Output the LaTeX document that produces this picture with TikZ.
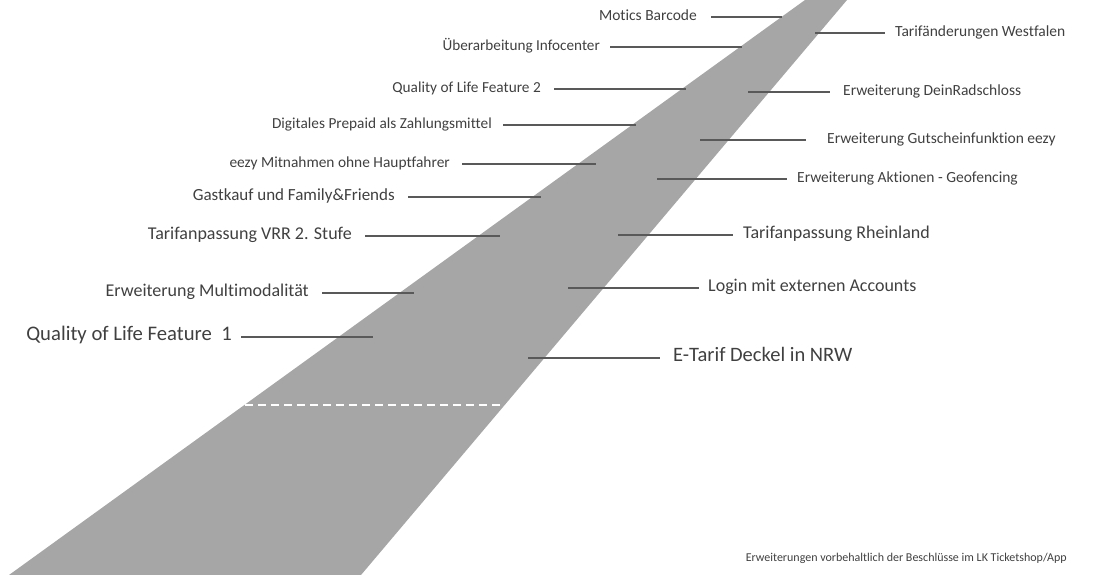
\documentclass[tikz,border=0pt]{standalone}
\usepackage{fontspec}
\setmainfont{Carlito}[Ligatures={NoCommon,NoContextual}]
\usepackage{tikz}
\definecolor{roadgray}{HTML}{A6A6A6}
\definecolor{linegray}{HTML}{595959}
\definecolor{textgray}{HTML}{404040}

\begin{document}
\begin{tikzpicture}[x=1pt,y=-1pt,
    lbl/.style={text=textgray, inner ysep=0pt, text height=0.64em, text depth=0em},
    tick/.style={draw=linegray, line width=1.4pt}]
      \useasboundingbox (0,0) rectangle (1113,575);
      \path[fill=roadgray] (9,575) -- (361,575) -- (847,0) -- (805,0) -- cycle;
      \path[draw=white, line width=1.2pt, dash pattern=on 8pt off 5pt] (245,405) -- (502,405);
      % left side: y / line start / line end / gap / size / text
      \foreach \i/\y/\xa/\xb/\gap/\fs/\txt in {
          1/17/711/782/14/15.5/{Motics Barcode},
          2/47/610/742/10/15.2/{Überarbeitung Infocenter},
          3/89/554/686/13/15.3/{Quality of Life Feature 2},
          4/125/503/636/11/15.3/{Digitales Prepaid als Zahlungsmittel},
          5/164/462/596/12/15.4/{eezy Mitnahmen ohne Hauptfahrer},
          6/197/408/541/13/17/{Gastkauf und Family\&Friends},
          7/236/365/500/13/18/{Tarifanpassung VRR 2. Stufe},
          8/293/322/414/13/18/{Erweiterung Multimodalität},
          9/337/241/373/9/20.7/{Quality of Life Feature\ \ 1}} {
        \node[lbl, anchor=east, inner xsep=\gap pt, font=\fontsize{\fs}{\fs}\selectfont] (left\i) at (\xa,\y) {\txt};
        \coordinate (left\i-end) at (\xb,\y);
        \path[tick] (left\i.east) -- (left\i-end);
      }
      % right side
      \foreach \i/\y/\xa/\xb/\gap/\fs/\txt in {
          1/33/815/885/10/15.5/{Tarifänderungen Westfalen},
          2/92/748/830/13/15.5/{Erweiterung DeinRadschloss},
          3/140/700/806/21/15.5/{Erweiterung Gutscheinfunktion eezy},
          4/179/657/787/10/15.5/{Erweiterung Aktionen - Geofencing},
          5/235/618/733/10/18/{Tarifanpassung Rheinland},
          6/288/568/699/9/18/{Login mit externen Accounts},
          7/358/528/660/13/20.5/{E-Tarif Deckel in NRW}} {
        \node[lbl, anchor=west, inner xsep=\gap pt, font=\fontsize{\fs}{\fs}\selectfont] (right\i) at (\xb,\y) {\txt};
        \coordinate (right\i-start) at (\xa,\y);
        \path[tick] (right\i-start) -- (right\i.west);
      }
      \node[lbl, anchor=east, inner xsep=0pt, font=\fontsize{12}{12}\selectfont] (note) at (1067,558)
        {Erweiterungen vorbehaltlich der Beschlüsse im LK Ticketshop/App};
    \end{tikzpicture}
\end{document}
